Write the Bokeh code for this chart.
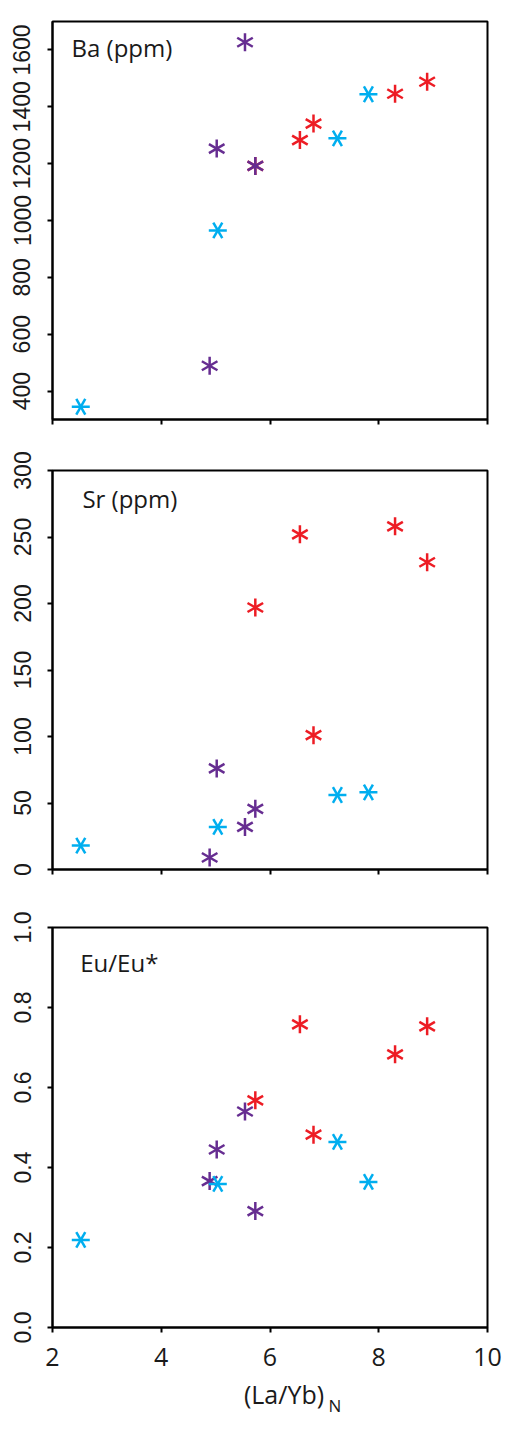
from bokeh.plotting import figure
from bokeh.layouts import column
from bokeh.models import Range1d, FixedTicker, Label, PrintfTickFormatter
from bokeh.embed import file_html
from bokeh.resources import INLINE

# (La/Yb)N ratios and element data for the three sample groups
la_yb_red = [5.73, 6.55, 6.80, 8.30, 8.89]
ba_red = [1192, 1283, 1341, 1446, 1488]
sr_red = [197, 252, 101, 258, 231]
eu_red = [0.568, 0.758, 0.482, 0.683, 0.753]

la_yb_purple = [4.89, 5.02, 5.54, 5.73]
ba_purple = [489, 1253, 1627, 1192]
sr_purple = [9, 76, 32, 45.6]
eu_purple = [0.366, 0.445, 0.540, 0.291]

la_yb_cyan = [2.52, 5.04, 7.24, 7.81]
ba_cyan = [345, 965, 1289, 1444]
sr_cyan = [18, 32, 56, 58]
eu_cyan = [0.219, 0.359, 0.464, 0.364]

x_ticks = [2, 4, 6, 8, 10]
ba_ticks = [400, 600, 800, 1000, 1200, 1400, 1600]
sr_ticks = [0, 50, 100, 150, 200, 250, 300]
eu_ticks = [0.0, 0.2, 0.4, 0.6, 0.8, 1.0]

RED = "#ed1c24"
PURPLE = "#662d91"
CYAN = "#00aeef"
INK = "#1a1a1a"

TICK_FONT = "Liberation Sans"
TEXT_FONT = "Open Sans"


def star(p, xs, ys, color, angles):
    # six-armed asterisk built from three rotated dashes
    for a in angles:
        p.scatter(xs, ys, marker="dash", size=18, angle=a, angle_units="deg",
                  line_color=color, line_width=2.5)


def panel(height, left, right, top, bottom, y_range, y_ticks, ys, title,
          title_x, title_y, show_x_labels=False, fmt=None):
    p = figure(width=513, height=height, x_range=Range1d(2, 10), y_range=y_range,
               output_backend="svg", toolbar_location=None,
               min_border_left=left, min_border_right=right,
               min_border_top=top, min_border_bottom=bottom)
    p.xgrid.visible = False
    p.ygrid.visible = False
    p.outline_line_color = "black"
    p.outline_line_width = 2
    p.outline_line_alpha = 1.0

    for ax in (p.xaxis[0], p.yaxis[0]):
        ax.axis_line_width = 2
        ax.axis_line_color = "black"
        ax.major_tick_line_width = 2
        ax.major_tick_line_color = "black"
        ax.major_tick_in = 0
        ax.major_tick_out = 5
        ax.minor_tick_line_color = None

    p.xaxis.ticker = FixedTicker(ticks=x_ticks)
    p.yaxis.ticker = FixedTicker(ticks=y_ticks)
    p.yaxis.major_label_orientation = "vertical"
    p.yaxis.major_label_text_font = TICK_FONT
    p.yaxis.major_label_text_font_size = "23px"
    p.yaxis.major_label_text_color = INK
    p.yaxis.major_label_standoff = 17
    if fmt is not None:
        p.yaxis.formatter = fmt

    if show_x_labels:
        p.xaxis.major_label_text_font = TEXT_FONT
        p.xaxis.major_label_text_font_size = "25px"
        p.xaxis.major_label_text_color = INK
        p.xaxis.major_label_standoff = 15
    else:
        # tick marks only on the upper panels
        p.xaxis.major_label_text_color = None
        p.xaxis.major_label_text_font_size = "10px"
        p.xaxis.major_label_standoff = 0

    star(p, la_yb_red, ys[0], RED, [90, 30, -30])
    star(p, la_yb_purple, ys[1], PURPLE, [90, 30, -30])
    star(p, la_yb_cyan, ys[2], CYAN, [0, 60, -60])

    p.add_layout(Label(x=title_x, y=title_y, text=title, text_font=TEXT_FONT,
                       text_font_size="24px", text_color=INK,
                       text_baseline="middle", text_align="left"))
    return p


p1 = panel(445, 49, 26, 21, 26, Range1d(300, 1700), ba_ticks,
           (ba_red, ba_purple, ba_cyan), "Ba (ppm)", 2.35, 1609)
p2 = panel(453, 52, 22, 25, 29, Range1d(0, 300), sr_ticks,
           (sr_red, sr_purple, sr_cyan), "Sr (ppm)", 2.55, 279)
p3 = panel(474, 52, 22, 29, 45, Range1d(0, 1.0), eu_ticks,
           (eu_red, eu_purple, eu_cyan), "Eu/Eu*", 2.51, 0.912,
           show_x_labels=True, fmt=PrintfTickFormatter(format="%.1f"))

# strip holding the x-axis title (La/Yb) with its subscript N
p4 = figure(width=513, height=58, x_range=Range1d(0, 513), y_range=Range1d(0, 58),
            output_backend="svg", toolbar_location=None, min_border=0)
p4.axis.visible = False
p4.xgrid.visible = False
p4.ygrid.visible = False
p4.outline_line_color = None
p4.add_layout(Label(x=273, y=37, text="(La/Yb)", text_font=TEXT_FONT,
                    text_font_size="25px", text_color=INK,
                    text_baseline="middle", text_align="center"))
p4.add_layout(Label(x=333, y=25, text="N", text_font=TEXT_FONT,
                    text_font_size="17px", text_color=INK,
                    text_baseline="middle", text_align="center"))

layout = column(p1, p2, p3, p4, spacing=0)
open("out.html", "w").write(file_html(layout, INLINE))
